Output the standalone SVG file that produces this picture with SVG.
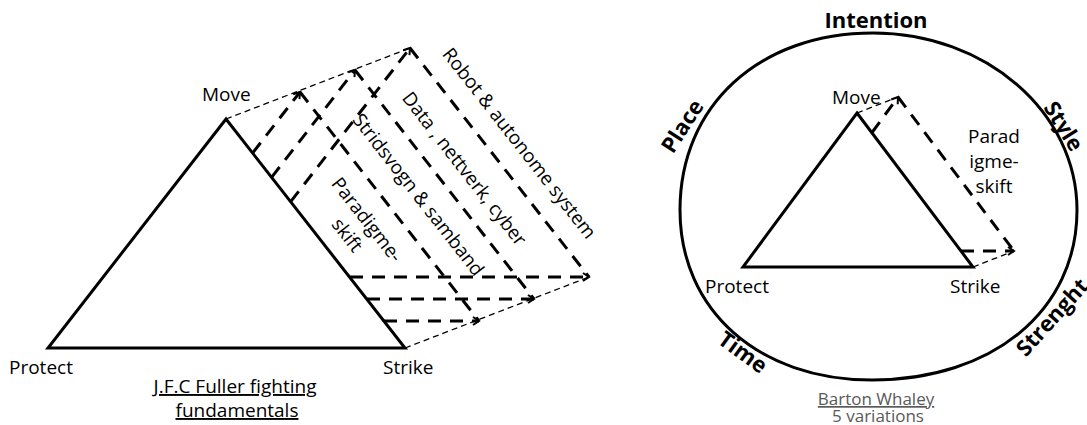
<svg xmlns="http://www.w3.org/2000/svg" width="1087" height="425" viewBox="0 0 1087 425">
<style>
.sh{fill:none;stroke:#000;stroke-width:3;stroke-linejoin:miter}
.dk{fill:none;stroke:#000;stroke-width:3;stroke-dasharray:13 9}
.dt{fill:none;stroke:#000;stroke-width:1.3;stroke-dasharray:6 4}
.t{font-family:"Open Sans","Noto Sans","Liberation Sans",sans-serif;font-size:19px;fill:#000}
.b{font-family:"Open Sans","Noto Sans","Liberation Sans",sans-serif;font-size:22px;font-weight:bold;fill:#000}
.g{font-family:"Open Sans","Noto Sans","Liberation Sans",sans-serif;font-size:17px;fill:#595959}
</style>
<defs>
<marker id="ah" viewBox="-8 -6 10 12" markerWidth="10" markerHeight="12" markerUnits="userSpaceOnUse" orient="auto" refX="0" refY="0">
<path d="M-6,-4 L0,0 L-6,4" fill="none" stroke="#000" stroke-width="2"/>
</marker>
</defs>
<rect width="1087" height="425" fill="#fff"/>

<g id="fuller-triangle">
<polygon class="sh" points="226,119 405,348 48,348"/>
<text class="t" x="202" y="101">Move</text>
<text class="t" x="9" y="374">Protect</text>
<text class="t" x="383" y="374">Strike</text>
<text class="t" x="235" y="393" text-anchor="middle" text-decoration="underline">J.F.C Fuller fighting</text>
<text class="t" x="237" y="417" text-anchor="middle" text-decoration="underline">fundamentals</text>
</g>

<g id="shift-labels">
<text class="t" transform="translate(519,143.5) rotate(52)" x="0" y="6" text-anchor="middle">Robot &amp; autonome system</text>
<text class="t" transform="translate(464,169) rotate(52)" x="0" y="6" text-anchor="middle">Data , nettverk, cyber</text>
<text class="t" transform="translate(418,195) rotate(52)" x="0" y="6" text-anchor="middle">Stridsvogn &amp; samband</text>
<g transform="translate(366.5,220) rotate(52)">
<text class="t" x="0" y="6" text-anchor="middle">Paradigme-</text>
<text class="t" x="0" y="31" text-anchor="middle">skift</text>
</g>
</g>

<g id="whaley-ellipse">
<path class="sh" d="M680,210 C680,105.6 759.1,33 873,33 C985.7,33 1077,112.2 1077,210 C1077,310.3 993,380 872,380 C758.7,380 680,310.3 680,210 Z"/>
<text class="b" x="876" y="28" text-anchor="middle">Intention</text>
<text class="b" transform="translate(682,126) rotate(-57)" x="0" y="8" text-anchor="middle">Place</text>
<text class="b" transform="translate(1064,126) rotate(58)" x="0" y="8" text-anchor="middle">Style</text>
<text class="b" transform="translate(743,352) rotate(36)" x="0" y="8" text-anchor="middle">Time</text>
<text class="b" transform="translate(1052,317) rotate(-48)" x="0" y="8" text-anchor="middle">Strenght</text>
<text class="g" x="876" y="405" text-anchor="middle" text-decoration="underline">Barton Whaley</text>
<text class="g" x="878" y="422" text-anchor="middle">5 variations</text>
</g>

<g id="whaley-triangle">
<polygon class="sh" points="857,113 973,267 743,267"/>
<text class="t" x="832" y="104">Move</text>
<text class="t" x="705" y="293">Protect</text>
<text class="t" x="950" y="293">Strike</text>
<text class="t" x="994" y="143" text-anchor="middle">Parad</text>
<text class="t" x="994" y="168" text-anchor="middle">igme-</text>
<text class="t" x="994" y="193" text-anchor="middle">skift</text>
</g>

<g id="connectors">
<line class="dt" x1="226" y1="119" x2="410" y2="48"/>
<line class="dt" x1="405" y1="348" x2="589" y2="277"/>
<line class="dk" x1="252.6" y1="153" x2="300" y2="92" marker-end="url(#ah)"/>
<line class="dk" x1="300" y1="92" x2="479" y2="321"/>
<line class="dk" x1="384" y1="321" x2="479" y2="321" marker-end="url(#ah)"/>
<line class="dk" x1="271.6" y1="177.3" x2="355" y2="70" marker-end="url(#ah)"/>
<line class="dk" x1="355" y1="70" x2="534" y2="299"/>
<line class="dk" x1="367" y1="299" x2="534" y2="299" marker-end="url(#ah)"/>
<line class="dk" x1="290.7" y1="201.6" x2="410" y2="48" marker-end="url(#ah)"/>
<line class="dk" x1="410" y1="48" x2="589" y2="277"/>
<line class="dk" x1="350" y1="277" x2="589" y2="277" marker-end="url(#ah)"/>
<line class="dt" x1="857" y1="113" x2="898" y2="97"/>
<line class="dt" x1="973" y1="267" x2="1014" y2="251"/>
<line class="dk" x1="872" y1="132.5" x2="898" y2="97" marker-end="url(#ah)"/>
<line class="dk" x1="898" y1="97" x2="1014" y2="251"/>
<line class="dk" x1="961" y1="251" x2="1014" y2="251" marker-end="url(#ah)"/>
</g>
</svg>
